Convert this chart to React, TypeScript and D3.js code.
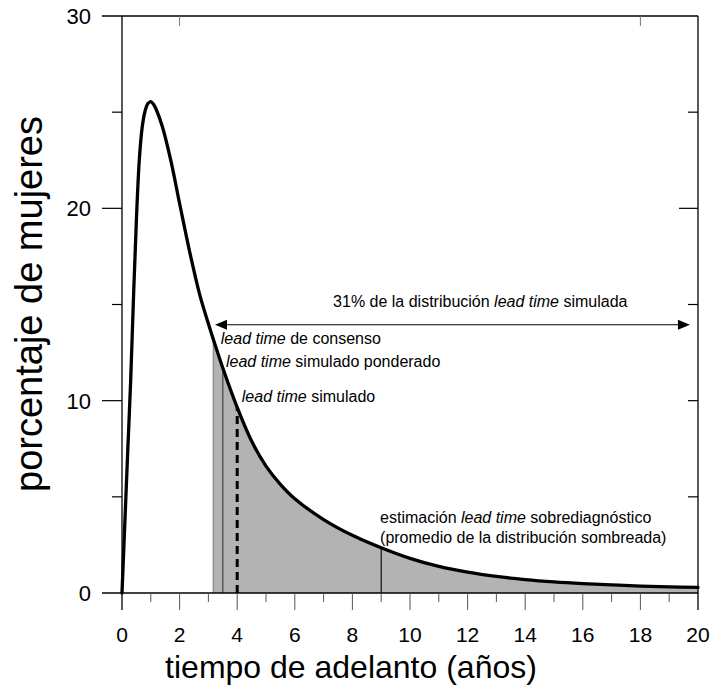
import React from "react";
import * as d3 from "d3";

// curve: tiempo de adelanto (años) vs porcentaje de mujeres
const years = [0, 0.1, 0.2, 0.3, 0.4, 0.5, 0.6, 0.7, 0.8, 0.9, 1.0, 1.1, 1.2, 1.4, 1.7, 2.0, 2.2, 2.4, 2.7, 3.0, 3.2, 3.5, 4.0, 4.5, 5.0, 5.5, 6.0, 7.0, 8.0, 9.0, 10, 11, 12, 13, 14, 15, 16, 17, 18, 19, 20];
const percent = [0, 3.7, 7.4, 11.0, 15.4, 19.4, 22.5, 24.2, 25.05, 25.45, 25.55, 25.4, 25.1, 24.25, 22.45, 20.25, 18.8, 17.4, 15.5, 14.0, 13.05, 11.7, 9.65, 7.9, 6.6, 5.65, 4.9, 3.82, 3.0, 2.35, 1.8, 1.38, 1.08, 0.86, 0.7, 0.58, 0.49, 0.42, 0.36, 0.32, 0.29];

const xTicks = d3.range(0, 21, 1);
const xTickLabels = ["0", "2", "4", "6", "8", "10", "12", "14", "16", "18", "20"];
const yTicks = [0, 5, 10, 15, 20, 25, 30];
const yTickLabels = ["0", "10", "20", "30"];
const topTicks = [2, 18];

const shadeStart = 3.17; // lead time de consenso
const weighted = 3.5; // lead time simulado ponderado
const simulated = 4.0; // lead time simulado
const overdiag = 9.0; // estimación lead time sobrediagnóstico
const arrowSpan = [3.23, 19.72];
const arrowLevel = 13.95;

const W = 711, H = 689;
const FONT = "'Liberation Sans', Arial, sans-serif";

export default function App() {
  const x = d3.scaleLinear().domain([0, 20]).range([122, 698]);
  const y = d3.scaleLinear().domain([0, 30]).range([593, 16]);
  const pts: [number, number][] = years.map((t, i) => [t, percent[i]]);
  const curve = d3.curveCatmullRom.alpha(0.5);
  const line = d3.line<[number, number]>().x(d => x(d[0])).y(d => y(d[1])).curve(curve);
  const area = d3.area<[number, number]>().x(d => x(d[0])).y0(y(0)).y1(d => y(d[1])).curve(curve);
  const at = d3.scaleLinear().domain(years).range(percent);

  const markers = [
    { v: shadeStart, color: "#8a8a8a", w: 1.3, dash: undefined as string | undefined },
    { v: weighted, color: "#4a4a4a", w: 1.3, dash: undefined },
    { v: simulated, color: "#000", w: 3, dash: "8,5" },
    { v: overdiag, color: "#000", w: 1.1, dash: undefined },
  ];

  const ax0 = x(arrowSpan[0]), ax1 = x(arrowSpan[1]), ay = y(arrowLevel);

  const labels = [
    { x: 7.33, y: 14.85, it: "lead time", pre: "31% de la distribución ", post: " simulada" },
    { x: 3.43, y: 12.95, it: "lead time", pre: "", post: " de consenso" },
    { x: 3.61, y: 11.75, it: "lead time", pre: "", post: " simulado ponderado" },
    { x: 4.16, y: 9.93, it: "lead time", pre: "", post: " simulado" },
    { x: 8.96, y: 3.64, it: "lead time", pre: "estimación ", post: " sobrediagnóstico" },
    { x: 8.96, y: 2.6, it: "", pre: "(promedio de la distribución sombreada)", post: "" },
  ];

  return (
    <svg width={W} height={H} style={{ position: "absolute", left: 0, top: 0, background: "#fff" }} fontFamily={FONT}>
      <defs>
        <clipPath id="shadeClip">
          <rect x={x(shadeStart)} y={0} width={x(20) - x(shadeStart)} height={H} />
        </clipPath>
      </defs>
      {/* shaded area */}
      <path d={area(pts) || ""} fill="#b3b3b3" clipPath="url(#shadeClip)" />
      {/* markers */}
      {markers.map((m, i) => (
        <line key={i} x1={x(m.v)} x2={x(m.v)} y1={y(0)} y2={y(at(m.v))} stroke={m.color} strokeWidth={m.w} strokeDasharray={m.dash} />
      ))}
      {/* frame */}
      <line x1={102} x2={x(20)} y1={y(30)} y2={y(30)} stroke="#000" strokeWidth={1.3} />
      <line x1={102} x2={x(20)} y1={y(0)} y2={y(0)} stroke="#000" strokeWidth={1.3} />
      <line x1={x(0)} x2={x(0)} y1={y(30)} y2={y(0) + 17} stroke="#000" strokeWidth={1.3} />
      <line x1={x(20)} x2={x(20)} y1={y(30)} y2={y(0) + 17} stroke="#000" strokeWidth={1.3} />
      {/* x ticks */}
      {xTicks.filter(t => t > 0 && t < 20).map(t => (
        <line key={t} x1={x(t)} x2={x(t)} y1={y(0)} y2={y(0) + (t % 2 === 0 ? 17 : 9)} stroke="#555" strokeWidth={1} />
      ))}
      {topTicks.map(t => (
        <line key={"tt" + t} x1={x(t)} x2={x(t)} y1={y(30)} y2={y(30) + 10} stroke="#777" strokeWidth={1} />
      ))}
      {/* y ticks */}
      {yTicks.filter(t => t > 0 && t < 30).map(t => (
        <line key={"l" + t} x1={x(0) - (t % 10 === 0 ? 20 : 10)} x2={x(0)} y1={y(t)} y2={y(t)} stroke="#000" strokeWidth={1.2} />
      ))}
      {yTicks.filter(t => t > 0 && t < 30).map(t => (
        <line key={"r" + t} x1={x(20) - (t === 20 ? 19 : 10)} x2={x(20)} y1={y(t)} y2={y(t)} stroke="#000" strokeWidth={1.2} />
      ))}
      {/* curve */}
      <path d={line(pts) || ""} fill="none" stroke="#000" strokeWidth={3.3} strokeLinejoin="round" strokeLinecap="round" />
      {/* arrow */}
      <line x1={ax0 + 10} x2={ax1 - 10} y1={ay} y2={ay} stroke="#000" strokeWidth={1.1} />
      <path d={`M${ax0},${ay} L${ax0 + 12},${ay - 5} L${ax0 + 12},${ay + 5} Z`} fill="#000" />
      <path d={`M${ax1},${ay} L${ax1 - 12},${ay - 5} L${ax1 - 12},${ay + 5} Z`} fill="#000" />
      {/* annotations */}
      {labels.map((l, i) => (
        <text key={i} x={x(l.x)} y={y(l.y)} fontSize={16} fill="#000">
          {l.pre}
          {l.it && <tspan fontStyle="italic">{l.it}</tspan>}
          {l.post}
        </text>
      ))}
      {/* tick labels */}
      {xTickLabels.map(s => (
        <text key={"xl" + s} x={x(+s)} y={642} fontSize={21} textAnchor="middle">{s}</text>
      ))}
      {yTickLabels.map(s => (
        <text key={"yl" + s} x={91} y={y(+s) + 8} fontSize={22} textAnchor="end">{s}</text>
      ))}
      {/* axis titles */}
      <text x={(x(0) + x(20)) / 2 - 59} y={678} fontSize={32} textAnchor="middle">tiempo de adelanto (años)</text>
      <text transform={`translate(42,304) rotate(-90)`} fontSize={38} textAnchor="middle">porcentaje de mujeres</text>
    </svg>
  );
}
